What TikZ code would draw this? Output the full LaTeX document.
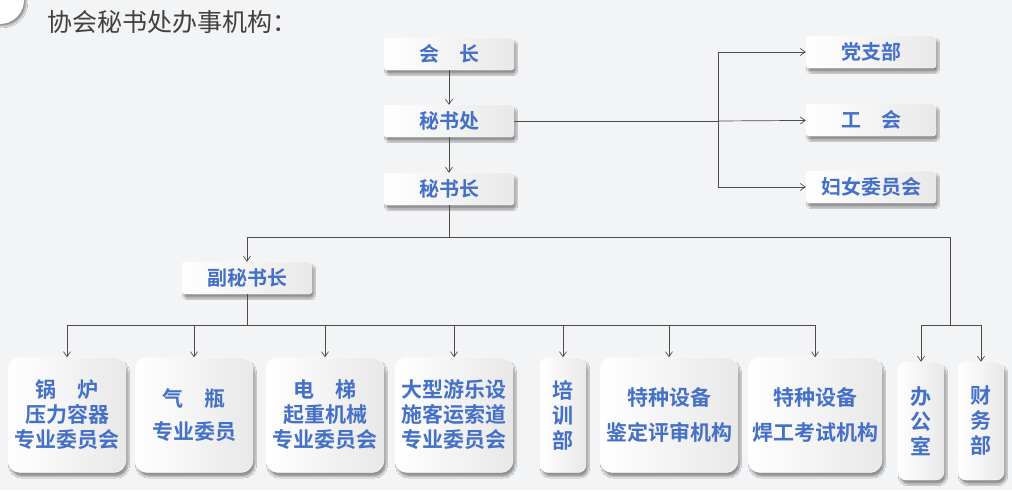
\documentclass[tikz,border=0pt]{standalone}
\usepackage{fontspec}
\newfontfamily\cjk{Noto Sans CJK SC}
\newfontfamily\cjkb{Noto Sans CJK SC Bold}
\usetikzlibrary{shadows.blur,arrows.meta}
\definecolor{bg}{HTML}{F3F4F6}
\definecolor{txtblue}{HTML}{4470C8}
\tikzset{
  box/.style={rounded corners=3pt, left color=white, right color=gray!18, draw=white,
    blur shadow={shadow xshift=2pt, shadow yshift=-4pt, shadow blur steps=6},
    text=txtblue, font=\cjkb\fontsize{20}{21}\selectfont, align=center, inner sep=0pt},
  topbox/.style={box, minimum width=130pt, minimum height=32pt},
  lowbox/.style={box, rounded corners=12pt, minimum height=115pt,
    font=\cjkb\fontsize{21}{25}\selectfont},
  link/.style={draw=black!70, line width=0.7pt},
  arr/.style={link, -{Straight Barb[length=5pt,width=7pt]}},
}
\begin{document}
\begin{tikzpicture}[x=1pt, y=-1pt]
        \fill [bg] (0,0) rectangle (1012,490);
        \useasboundingbox (0,0) rectangle (1012,490);
        \fill [white, blur shadow] (0,0) circle (24);
        \node [anchor=west, text=black!75, font=\cjk\fontsize{25}{26}\selectfont] (title) at (44,22) {协会秘书处办事机构：};

        \node [topbox] (pres) at (449,54) {会\quad 长};
        \node [topbox] (office) at (449,121) {秘书处};
        \node [topbox] (secgen) at (449,189) {秘书长};
        \node [topbox] (party) at (871,52) {党支部};
        \node [topbox] (union) at (871,120) {工\quad 会};
        \node [topbox] (women) at (871,187) {妇女委员会};
        \node [topbox] (deputy) at (247,278) {副秘书长};

        \node [lowbox, minimum width=118pt] (boiler) at (67,415) {锅\quad 炉\\压力容器\\专业委员会};
        \node [lowbox, minimum width=118pt] (cyl) at (194,415) {气\quad 瓶\\[8pt]专业委员};
        \node [lowbox, minimum width=118pt] (lift) at (325,415) {电\quad 梯\\起重机械\\专业委员会};
        \node [lowbox, minimum width=118pt] (ride) at (454,415) {大型游乐设\\施客运索道\\专业委员会};
        \node [lowbox, minimum width=46pt, rounded corners=8pt] (train) at (563,415) {培\\训\\部};
        \node [lowbox, minimum width=138pt] (assess) at (669,415) {特种设备\\[10pt]鉴定评审机构};
        \node [lowbox, minimum width=134pt] (weld) at (815,415) {特种设备\\[10pt]焊工考试机构};
        \node [lowbox, minimum width=46pt, rounded corners=8pt, minimum height=118pt] (admin) at (921,421) {办\\公\\室};
        \node [lowbox, minimum width=46pt, rounded corners=8pt, minimum height=118pt] (fin) at (981,421) {财\\务\\部};

        \coordinate (split) at (718,121);
        \coordinate (hub) at (449,237);
        \coordinate (lowbar) at (247,325);
        \coordinate (rightbar) at (950,325);

        \draw [arr] (pres) -- (office);
        \draw [arr] (office) -- (secgen);
        \draw [link] (office) -- (split);
        \draw [arr] (split) |- (party);
        \draw [arr] (split) -- (union);
        \draw [arr] (split) |- (women);

        \draw [link] (secgen) -- (hub);
        \draw [link] (247,237) -- (950,237);
        \draw [arr] (247,237) -- (deputy);
        \draw [link] (950,237) -- (rightbar);
        \draw [link] (921,325) -- (981,325);
        \draw [arr] (921,325) -- (admin);
        \draw [arr] (981,325) -- (fin);

        \draw [link] (deputy) -- (lowbar);
        \draw [link] (67,325) -- (815,325);
        \foreach \n in {boiler,cyl,lift,ride,train,assess,weld}
          \draw [arr] (\n.north |- lowbar) -- (\n);
\end{tikzpicture}
\end{document}
